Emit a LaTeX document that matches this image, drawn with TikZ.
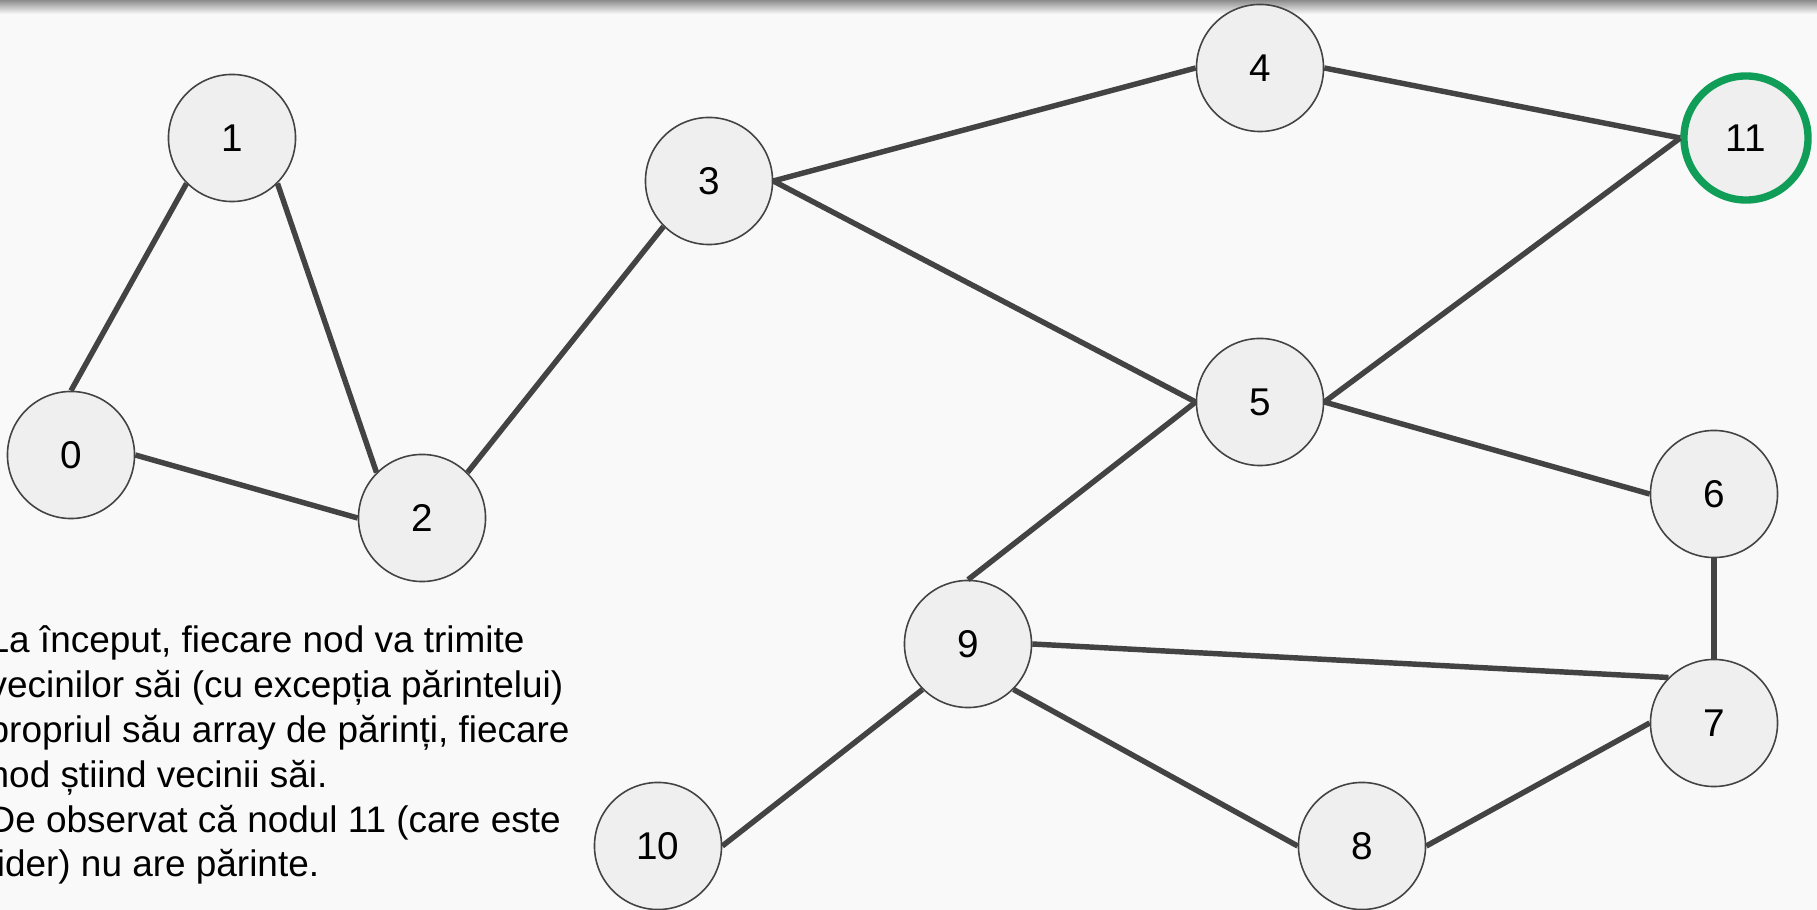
\documentclass[tikz,border=0pt]{standalone}
\usepackage{fontspec}
\setmainfont{Liberation Sans}
\usetikzlibrary{calc}
\definecolor{bgcol}{HTML}{F9F9F9}
\definecolor{nodefill}{HTML}{EFEFEF}
\definecolor{edgecol}{HTML}{434343}
\definecolor{leadgreen}{HTML}{0F9D58}
\tikzset{
	vertex/.style={circle, draw=edgecol, line width=0.45pt, fill=nodefill, minimum size=1.27cm, inner sep=0pt, font=\fontsize{11}{13}\selectfont},
	leader/.style={vertex, draw=leadgreen, line width=2.1pt, minimum size=1.24cm},
	link/.style={draw=edgecol, line width=1.55pt}
}

\begin{document}
\begin{tikzpicture}[x=0.01cm, y=-0.01cm]
			%%%%% START %%%%%
			
			\fill[bgcol] (0, 0) rectangle (1817, 910);
			\useasboundingbox (0, 0) rectangle (1817, 910);
			\shade[top color=black!45, bottom color=bgcol] (0, 0) rectangle (1817, 14);
			
			\node[vertex] (n0) at (71, 455) {0};
			\node[vertex] (n1) at (232, 138) {1};
			\node[vertex] (n2) at (422, 518) {2};
			\node[vertex] (n3) at (709, 181) {3};
			\node[vertex] (n4) at (1260, 68) {4};
			\node[leader] (n11) at (1746, 138) {11};
			\node[vertex] (n5) at (1260, 402) {5};
			\node[vertex] (n6) at (1714, 494) {6};
			\node[vertex] (n7) at (1714, 723) {7};
			\node[vertex] (n9) at (968, 644) {9};
			\node[vertex] (n10) at (658, 846) {10};
			\node[vertex] (n8) at (1362, 846) {8};
			
			\draw[link] (n0.north) -- (n1.south west);
			\draw[link] (n1.south east) -- (n2.north west);
			\draw[link] (n0.east) -- (n2.west);
			\draw[link] (n2.north east) -- (n3.south west);
			\draw[link] (n3.east) -- (n4.west);
			\draw[link] (n3.east) -- (n5.west);
			\draw[link] (n4.east) -- (n11.west);
			\draw[link] (n5.east) -- (n11.west);
			\draw[link] (n5.east) -- (n6.west);
			\draw[link] (n5.west) -- (n9.north);
			\draw[link] (n6.south) -- (n7.north);
			\draw[link] (n9.east) -- (n7.north west);
			\draw[link] (n9.south east) -- (n8.west);
			\draw[link] (n9.south west) -- (n10.east);
			\draw[link] (n8.east) -- (n7.west);
			
			\node[anchor=base west, align=left, inner sep=0pt, font=\fontsize{10.5}{12.75}\selectfont] (note) at (-12, 877) {La început, fiecare nod va trimite\\vecinilor săi (cu excepția părintelui)\\propriul său array de părinți, fiecare\\nod știind vecinii săi.\\De observat că nodul 11 (care este\\lider) nu are părinte.};
			
			%%%%% END %%%%%
		\end{tikzpicture}
\end{document}
